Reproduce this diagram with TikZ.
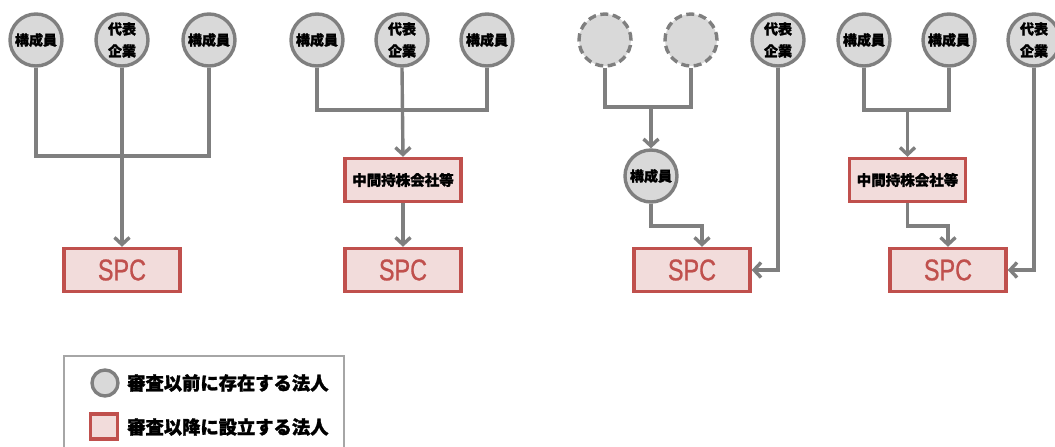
\documentclass[tikz,border=0pt]{standalone}
\usepackage{fontspec}
\setmainfont{Liberation Sans}
\newfontfamily\spcfont{Liberation Sans}[FakeBold=0.8]
\newfontfamily\jp{Noto Sans CJK JP}[BoldFeatures={FakeBold=1.5}]
\usetikzlibrary{arrows.meta}
\definecolor{cgray}{HTML}{7F7F7F}
\definecolor{cfill}{HTML}{D9D9D9}
\definecolor{cred}{HTML}{C0504D}
\definecolor{cpink}{HTML}{F2DCDB}
\definecolor{lgray}{HTML}{A6A6A6}
\begin{document}
\begin{tikzpicture}[x=1pt,y=-1pt,
 exist/.style={circle, draw=cgray, fill=cfill, line width=3.4pt, minimum size=52pt, inner sep=0pt, font=\jp\bfseries\fontsize{14}{22}\selectfont, align=center},
 ghost/.style={exist, dash pattern=on 8pt off 4.5pt},
 newbox/.style={rectangle, draw=cred, fill=cpink, line width=3.4pt, minimum width=116pt, minimum height=43pt, inner sep=0pt},
 midbox/.style={newbox, font=\jp\bfseries\fontsize{14.5}{16}\selectfont},
 spcbox/.style={newbox, text=cred, font=\spcfont\fontsize{30}{30}\selectfont},
 conn/.style={draw=cgray, line width=3.4pt},
 arr/.style={conn, -{Straight Barb[length=7pt,width=15pt]}},
 legtext/.style={anchor=west, inner sep=0pt, font=\jp\bfseries\fontsize{18.3}{20}\selectfont}
]
\useasboundingbox (0,0) rectangle (1055,447);
\clip (0,0) rectangle (1055,447);
% panel 1
\node[exist] (a1) at (36,40) {構成員};
\node[exist] (b1) at (122,40) {代表\\企業};
\node[exist] (c1) at (209,40) {構成員};
\node[spcbox] (spc1) at (122,270) {\scalebox{0.78}[1]{SPC}};
\coordinate (j1) at (122,156);
\draw[conn] (a1.south) |- (j1) -| (c1.south);
\draw[arr] (b1.south) -- (spc1.north);
% panel 2
\node[exist] (a2) at (317,40) {構成員};
\node[exist] (b2) at (402,40) {代表\\企業};
\node[exist] (c2) at (487,40) {構成員};
\node[midbox] (mid2) at (403,180) {中間持株会社等};
\node[spcbox] (spc2) at (403,270) {\scalebox{0.78}[1]{SPC}};
\coordinate (j2) at (402,110);
\draw[conn] (a2.south) |- (j2) -| (c2.south);
\draw[arr] (b2.south) -- (mid2.north);
\draw[arr] (mid2.south) -- (spc2.north);
% panel 3
\node[ghost] (g1) at (605,40) {};
\node[ghost] (g2) at (691,40) {};
\node[exist] (d3) at (778,40) {代表\\企業};
\node[exist] (m3) at (651,176) {構成員};
\node[spcbox] (spc3) at (692,270) {\scalebox{0.78}[1]{SPC}};
\coordinate (j3) at (651,107);
\draw[conn] (g1.south) |- (j3) -| (g2.south);
\draw[arr] (j3) -- (m3.north);
\coordinate (k3) at (702,226);
\draw[arr] (m3.south) |- (k3) -- (k3 |- spc3.north);
\draw[arr] (d3.south) |- (spc3.east);
% panel 4
\node[exist] (a4) at (864,40) {構成員};
\node[exist] (b4) at (949,40) {構成員};
\node[exist] (d4) at (1034,40) {代表\\企業};
\node[midbox] (mid4) at (907.5,180) {中間持株会社等};
\node[spcbox] (spc4) at (948,270) {\scalebox{0.78}[1]{SPC}};
\coordinate (j4) at (907.5,110);
\draw[conn] (a4.south) |- (j4) -| (b4.south);
\draw[arr] (j4) -- (mid4.north);
\coordinate (k4) at (948,226);
\draw[arr] (mid4.south) |- (k4) -- (k4 |- spc4.north);
\draw[arr] (d4.south) |- (spc4.east);
% legend
\node[draw=lgray, line width=1.5pt, anchor=north west, minimum width=280pt, minimum height=110pt, inner sep=0pt] (leg) at (63,355) {};
\node[circle, draw=cgray, fill=cfill, line width=3.4pt, minimum size=26pt, inner sep=0pt] (lc) at (105,383) {};
\node[rectangle, draw=cred, fill=cpink, line width=3.4pt, minimum width=27pt, minimum height=25pt, inner sep=0pt] (lr) at (104,426.5) {};
\node[legtext] (lt1) at (127,383) {審査以前に存在する法人};
\node[legtext] (lt2) at (127,427) {審査以降に設立する法人};
\end{tikzpicture}
\end{document}
